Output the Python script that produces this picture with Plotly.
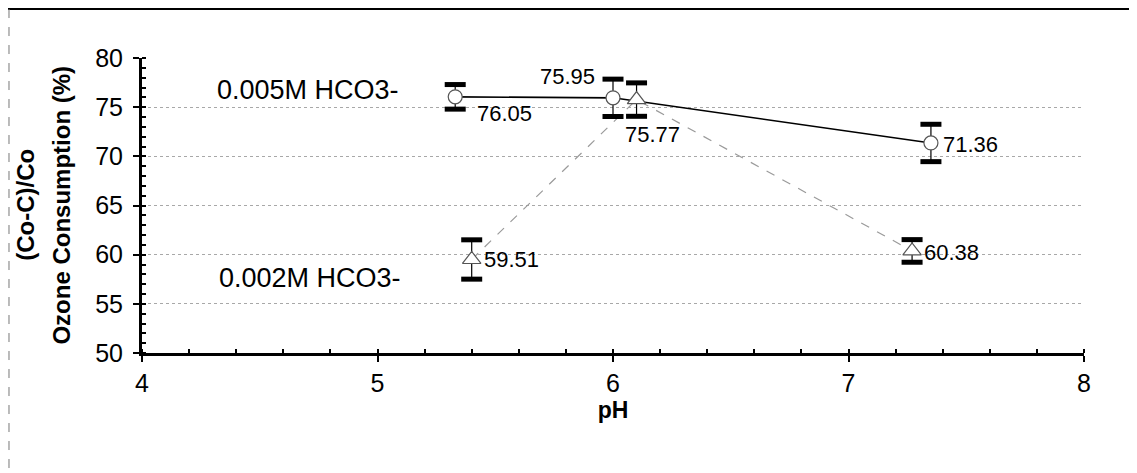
import plotly.graph_objects as go

# ---- data ----
ph_005 = [5.33, 6.00, 7.35]
val_005 = [76.05, 75.95, 71.36]
err_005 = [1.25, 1.9, 1.9]
lbl_005 = ["76.05", "75.95", "71.36"]

ph_002 = [5.40, 6.10, 7.27]
val_002 = [59.51, 75.77, 60.38]
err_002 = [2.0, 1.7, 1.15]
lbl_002 = ["59.51", "75.77", "60.38"]

series_names = ["0.005M HCO3-", "0.002M HCO3-"]
x_ticks = [4, 5, 6, 7, 8]
y_ticks = [50, 55, 60, 65, 70, 75, 80]

# label placement (style): (xanchor, xshift, yshift)
pos_005 = [("left", 20, -17), ("right", -16, 21), ("left", 10, -2)]
pos_002 = [("left", 10, 0), ("left", -14, -35), ("left", 10, -2)]

FONT = "Arial, Liberation Sans, Helvetica, sans-serif"

fig = go.Figure()

# dashed series line
fig.add_trace(go.Scatter(x=ph_002, y=val_002, mode="lines",
                         line=dict(color="#9a9a9a", width=1.2, dash="dash"),
                         showlegend=False, hoverinfo="skip"))
# solid series line
fig.add_trace(go.Scatter(x=ph_005, y=val_005, mode="lines",
                         line=dict(color="black", width=1.6),
                         showlegend=False, hoverinfo="skip"))

# error bars + markers
for xs, ys, es, sym, sz in [(ph_005, val_005, err_005, "circle", 14),
                            (ph_002, val_002, err_002, "triangle-up", 16)]:
    fig.add_trace(go.Scatter(
        x=xs, y=ys, mode="markers",
        error_y=dict(type="data", array=es, visible=True,
                     color="black", thickness=1.2, width=0),
        marker=dict(symbol=sym, size=sz, color="white",
                    line=dict(color="#555", width=1.2)),
        showlegend=False, hoverinfo="skip"))
    caps_y = [y + e for y, e in zip(ys, es)] + [y - e for y, e in zip(ys, es)]
    fig.add_trace(go.Scatter(
        x=xs + xs, y=caps_y, mode="markers",
        marker=dict(symbol="line-ew", size=15,
                    line=dict(color="black", width=5)),
        showlegend=False, hoverinfo="skip"))

annotations = []
for xs, ys, ls, ps in [(ph_005, val_005, lbl_005, pos_005),
                       (ph_002, val_002, lbl_002, pos_002)]:
    for x, y, t, (xa, dx, dy) in zip(xs, ys, ls, ps):
        annotations.append(dict(x=x, y=y, xref="x", yref="y", text=t,
                                showarrow=False, xanchor=xa, yanchor="middle",
                                xshift=dx, yshift=dy,
                                font=dict(family=FONT, size=22, color="black")))

annotations.append(dict(x=0.0775, y=0.8915, xref="paper", yref="paper",
                        text=series_names[0], showarrow=False,
                        xanchor="left", yanchor="middle",
                        font=dict(family=FONT, size=27, color="black")))
annotations.append(dict(x=0.0796, y=0.254, xref="paper", yref="paper",
                        text=series_names[1], showarrow=False,
                        xanchor="left", yanchor="middle",
                        font=dict(family=FONT, size=27, color="black")))

# y-axis title (two rotated lines)
annotations.append(dict(x=-0.124, y=0.503, xref="paper", yref="paper",
                        text="<b>(Co-C)/Co</b>", showarrow=False, textangle=-90,
                        xanchor="center", yanchor="middle",
                        font=dict(family=FONT, size=24, color="black")))
annotations.append(dict(x=-0.085, y=0.503, xref="paper", yref="paper",
                        text="<b>Ozone Consumption (%)</b>", showarrow=False,
                        textangle=-90, xanchor="center", yanchor="middle",
                        font=dict(family=FONT, size=24, color="black")))

shapes = [
    dict(type="line", xref="paper", yref="paper", x0=-0.1423, x1=1.0563,
         y0=1.166, y1=1.166, line=dict(color="black", width=2)),
    dict(type="line", xref="paper", yref="paper", x0=-0.1412, x1=-0.1412,
         y0=1.166, y1=-0.41, line=dict(color="#777", width=1, dash="dash")),
]

fig.update_layout(
    width=1129, height=465,
    margin=dict(l=134, r=53, t=50, b=120),
    paper_bgcolor="white", plot_bgcolor="white",
    showlegend=False,
    annotations=annotations, shapes=shapes,
    xaxis=dict(range=[4, 8], tickvals=x_ticks, showgrid=False, zeroline=False,
               showline=True, linecolor="black", linewidth=3,
               ticks="outside", ticklen=6, tickwidth=2, tickcolor="black",
               minor=dict(dtick=0.2, ticks="inside", ticklen=4, tickwidth=2,
                          tickcolor="black"),
               tickfont=dict(family=FONT, size=25, color="black"),
               title=dict(text="<b>pH</b>", standoff=6,
                          font=dict(family=FONT, size=23, color="black"))),
    yaxis=dict(range=[50, 80], tickvals=y_ticks, showgrid=True,
               gridcolor="#a8a8a8", griddash="dot", gridwidth=1,
               zeroline=False, showline=True, linecolor="black", linewidth=3,
               ticks="outside", ticklen=6, tickwidth=2, tickcolor="black",
               ticklabelstandoff=5,
               minor=dict(dtick=1, ticks="inside", ticklen=4, tickwidth=2,
                          tickcolor="black", showgrid=False),
               tickfont=dict(family=FONT, size=25, color="black")),
)

fig.write_html("out.html")
